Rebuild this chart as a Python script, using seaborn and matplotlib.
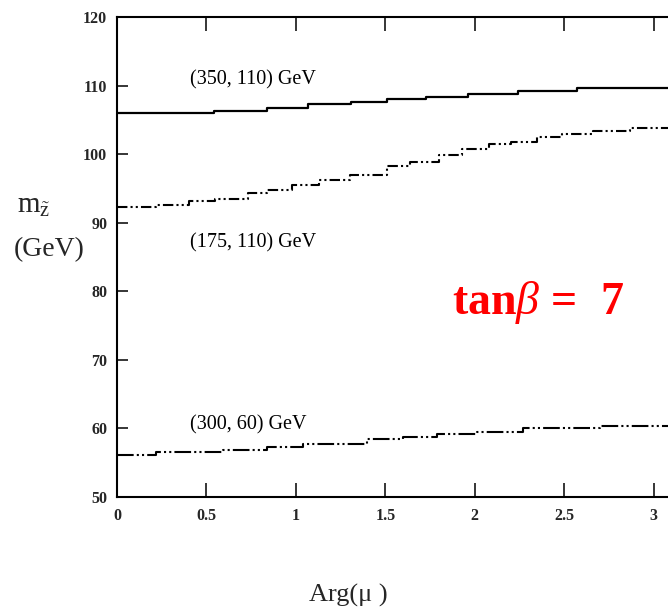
import numpy as np
import pandas as pd
import matplotlib
matplotlib.use("Agg")
import matplotlib.pyplot as plt
import seaborn as sns

# Neutralino-like mass vs. phase of mu, three parameter points (tan beta = 7)
x_top = [0, 0.54, 0.84, 1.07, 1.31, 1.51, 1.73, 1.96, 2.24, 2.57, 3.14159]
y_top = [106.05, 106.3, 106.8, 107.25, 107.65, 108.05, 108.4, 108.8, 109.2, 109.6, 109.6]

x_mid = [0, 0.22, 0.40, 0.55, 0.73, 0.84, 0.98, 1.13, 1.30, 1.51, 1.64, 1.80,
         1.93, 2.08, 2.20, 2.35, 2.49, 2.66, 2.87, 3.14159]
y_mid = [92.3, 92.6, 93.1, 93.4, 94.3, 94.8, 95.5, 96.2, 97.0, 98.2, 98.9, 99.9,
         100.75, 101.5, 101.8, 102.55, 103.0, 103.4, 103.85, 103.85]

x_bot = [0, 0.22, 0.59, 0.84, 1.04, 1.40, 1.60, 1.79, 2.01, 2.27, 2.70, 3.14159]
y_bot = [56.15, 56.5, 56.9, 57.35, 57.75, 58.5, 58.8, 59.2, 59.55, 60.05, 60.4, 60.4]

curve_labels = ["(350, 110) GeV", "(175, 110) GeV", "(300, 60) GeV"]
label_pos = [(0.41, 110.8), (0.41, 87.05), (0.41, 60.5)]

x_ticks = [0, 0.5, 1, 1.5, 2, 2.5, 3]
x_ticklabels = ["0", "0.5", "1", "1.5", "2", "2.5", "3"]
y_ticks = [50, 60, 70, 80, 90, 100, 110, 120]

sns.set_style("ticks")
plt.rcParams["font.family"] = ["Liberation Serif", "DejaVu Serif"]
plt.rcParams["mathtext.fontset"] = "custom"
plt.rcParams["mathtext.rm"] = "Liberation Serif"
plt.rcParams["mathtext.it"] = "Liberation Serif:italic"
plt.rcParams["mathtext.bf"] = "Liberation Serif:bold"

W, H = 668, 616
fig = plt.figure(figsize=(W / 100, H / 100), dpi=100)
fig.patch.set_facecolor("white")
# the plotting frame runs past the right edge of the figure
ax = fig.add_axes([117 / W, (H - 497) / H, (679 - 117) / W, 480 / H])
ax.set_facecolor("white")

df_top = pd.DataFrame({"x": x_top, "y": y_top})
df_mid = pd.DataFrame({"x": x_mid, "y": y_mid})
df_bot = pd.DataFrame({"x": x_bot, "y": y_bot})

sns.lineplot(data=df_top, x="x", y="y", ax=ax, color="black", lw=1.6,
             drawstyle="steps-post", estimator=None, sort=False)
sns.lineplot(data=df_mid, x="x", y="y", ax=ax, color="black", lw=1.5,
             drawstyle="steps-post", estimator=None, sort=False)
sns.lineplot(data=df_bot, x="x", y="y", ax=ax, color="black", lw=1.5,
             drawstyle="steps-post", estimator=None, sort=False)
ax.lines[1].set_dashes([5, 1.5, 1, 1.5, 1, 1.5])
ax.lines[2].set_dashes([8, 1.5, 1, 1.5, 1, 1.5])

for txt, (lx, ly) in zip(curve_labels, label_pos):
    ax.text(lx, ly, txt, fontsize=14.5, ha="left", va="center", color="black")

ax.text(1.871, 76.7, r"$\mathbf{tan}\mathit{\beta}\,\mathbf{=\ \,7}$",
        fontsize=33, color="#ff0000", ha="left", va="baseline")

ax.set_xlim(0, np.pi)
ax.set_ylim(50, 120)
ax.set_xticks(x_ticks)
ax.set_xticklabels(x_ticklabels)
ax.set_yticks(y_ticks)
ax.set_xlabel("")
ax.set_ylabel("")

for s in ax.spines.values():
    s.set_linewidth(1.5)
    s.set_color("black")
    s.set_visible(True)

ax.tick_params(axis="x", direction="in", length=10, width=1.3, top=True,
               bottom=True, labelsize=11.5, pad=8)
ax.tick_params(axis="y", direction="in", length=8, width=1.3, left=True,
               right=True, labelsize=11.5, pad=7)
for lab in ax.get_xticklabels() + ax.get_yticklabels():
    lab.set_fontweight("bold")

fig.text(17 / W, 1 - 213 / H, r"$\mathrm{m}_{\tilde{\mathrm{z}}}$", fontsize=21,
         ha="left", va="baseline")
fig.text(14 / W, 1 - 256 / H, "(GeV)", fontsize=20, ha="left", va="baseline")
fig.text(348 / W, 1 - 602 / H, "Arg(\u03bc )", fontsize=19, ha="center",
         va="baseline")

fig.savefig("out.png", dpi=100, facecolor="white")
